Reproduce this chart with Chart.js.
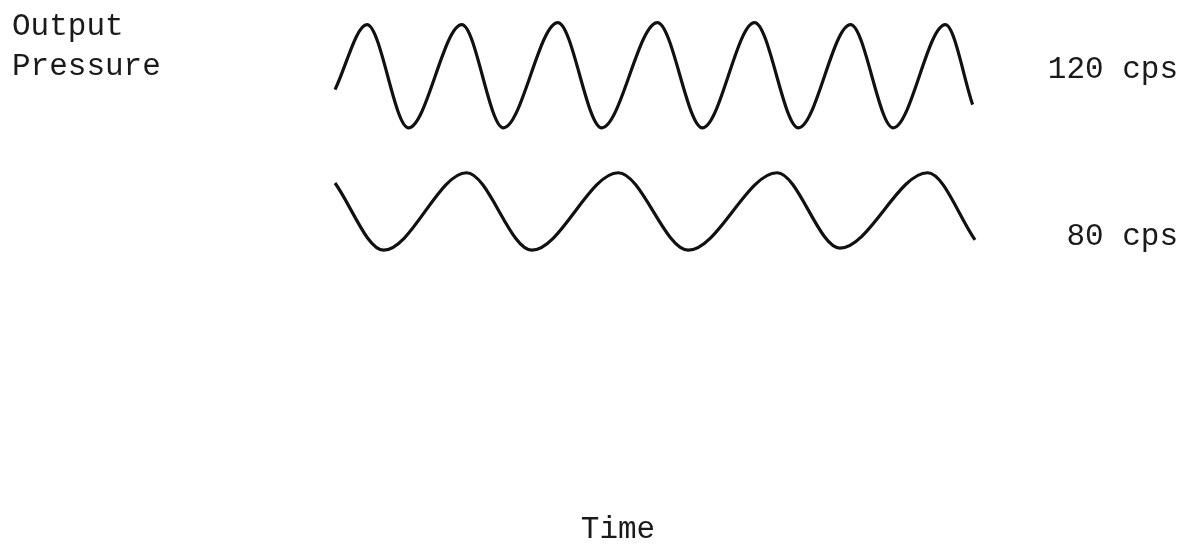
<!DOCTYPE html>
<html>
<head>
<meta charset="utf-8">
<script src="https://cdn.jsdelivr.net/npm/chart.js@4"></script>
<style>
  html, body { margin: 0; padding: 0; background: #fff; }
  #wrap { position: relative; width: 1192px; height: 552px; }
</style>
</head>
<body>
<div id="wrap"><canvas id="grafikTekanan"></canvas></div>
<script>
// time in ms, pressure in relative units
const waktu120 = [0, 2.7, 6.2, 10.7, 14.2, 18.8, 22.5, 27.2, 31.0, 35.4, 39.1, 43.5, 47.1, 51.5, 53.8];
const tekanan120 = [-0.26, 1.0, -1.0, 1.0, -1.0, 1.04, -1.0, 1.04, -1.0, 1.04, -1.0, 1.0, -1.0, 1.0, -0.55];

const waktu80 = [0, 4.1, 11.1, 16.6, 23.9, 29.8, 37.3, 42.6, 50.0, 54.0];
const tekanan80 = [-2.07, -3.37, -1.87, -3.37, -1.87, -3.37, -1.87, -3.33, -1.87, -3.17];

const labelSeri = ['120 cps', '80 cps'];
const judulY = ['Output', 'Pressure'];
const judulX = 'Time';

function gabung(xs, ys) {
    return xs.map(function (x, i) {
        return { x: x, y: ys[i] };
    });
}

const pluginTeks = {
    id: 'teks',
    afterDatasetsDraw: function (chart) {
        const ctx = chart.ctx;
        const y = chart.scales.y;
        ctx.save();
        ctx.fillStyle = '#1a1a1a';
        ctx.font = '31px "Liberation Mono", monospace';
        ctx.textBaseline = 'alphabetic';
        ctx.textAlign = 'left';
        ctx.fillText(judulY[0], 12, 35);
        ctx.fillText(judulY[1], 12, 75);
        ctx.textAlign = 'right';
        ctx.fillText(labelSeri[0], 1178, 78);
        ctx.fillText(labelSeri[1], 1178, 245);
        ctx.textAlign = 'center';
        ctx.fillText(judulX, 618, 538);
        ctx.restore();
    }
};

new Chart('grafikTekanan', {
    type: 'scatter',
    data: {
        datasets: [{
            label: labelSeri[0],
            data: gabung(waktu120, tekanan120),
            showLine: true,
            borderColor: '#111',
            borderWidth: 3.2,
            pointRadius: 0,
            cubicInterpolationMode: 'monotone',
            clip: false
        }, {
            label: labelSeri[1],
            data: gabung(waktu80, tekanan80),
            showLine: true,
            borderColor: '#111',
            borderWidth: 3.2,
            pointRadius: 0,
            cubicInterpolationMode: 'monotone',
            clip: false
        }]
    },
    options: {
        responsive: true,
        maintainAspectRatio: false,
        animation: false,
        layout: {
            padding: { left: 335, right: 217, top: 4, bottom: 290 }
        },
        plugins: {
            legend: { display: false },
            tooltip: { enabled: false }
        },
        scales: {
            x: { type: 'linear', min: 0, max: 54, display: false },
            y: { type: 'linear', min: -3.6, max: 1.4, display: false }
        }
    },
    plugins: [pluginTeks]
});
</script>
</body>
</html>
